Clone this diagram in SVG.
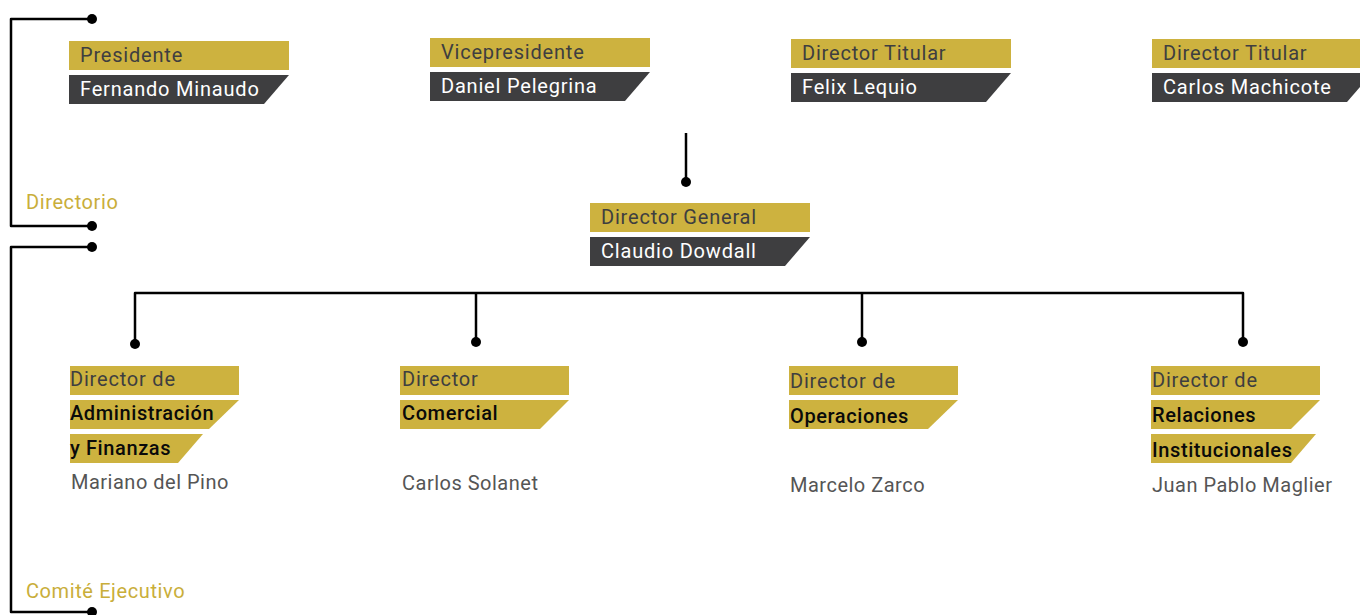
<svg xmlns="http://www.w3.org/2000/svg" width="1360" height="615" viewBox="0 0 1360 615">
<style>
.gold{fill:#CDB23F}
.dark{fill:#3E3E40}
.t{font-family:Roboto,"Liberation Sans",sans-serif;font-size:20px;letter-spacing:0.8px}
.lbl{fill:#3E3E40}
.nm{fill:#FFFFFF}
.bk{fill:#0A0A0A;font-weight:500;letter-spacing:0.6px}
.gr{fill:#555555;letter-spacing:0.5px}
.sec{font-family:Roboto,"Liberation Sans",sans-serif;font-size:20px;letter-spacing:0.6px;fill:#C9AE3A}
.ln{fill:none;stroke:#000;stroke-width:2.5;stroke-linejoin:round}
.dot{fill:#000}
</style>
<rect width="1360" height="615" fill="#FFFFFF"/>
<g id="connectors">
<path class="ln" d="M92,19 H11 V226 H92"/>
<circle class="dot" cx="92" cy="19" r="5"/>
<circle class="dot" cx="92" cy="226" r="5"/>
<path class="ln" d="M92,247 H11 V612 H92"/>
<circle class="dot" cx="92" cy="247" r="5"/>
<circle class="dot" cx="92" cy="612" r="5"/>
<path class="ln" d="M686,133 V182"/>
<circle class="dot" cx="686" cy="182" r="5"/>
<path class="ln" d="M135,344 V293 H1243 V342"/>
<path class="ln" d="M476,293 V342"/>
<path class="ln" d="M862,293 V342"/>
<circle class="dot" cx="135" cy="344" r="5"/>
<circle class="dot" cx="476" cy="342" r="5"/>
<circle class="dot" cx="862" cy="342" r="5"/>
<circle class="dot" cx="1243" cy="342" r="5"/>
</g>
<g id="directorio">
<text class="sec" x="26" y="209">Directorio</text>
</g>
<g id="comite">
<text class="sec" x="26" y="598">Comité Ejecutivo</text>
</g>
<g id="presidente">
<rect class="gold" x="69" y="41" width="220" height="29"/>
<polygon class="dark" points="69,75 289,75 264,104 69,104"/>
<text class="t lbl" x="80" y="62">Presidente</text>
<text class="t nm" x="80" y="96">Fernando Minaudo</text>
</g>
<g id="vicepresidente">
<rect class="gold" x="430" y="38" width="220" height="29"/>
<polygon class="dark" points="430,72 650,72 625,101 430,101"/>
<text class="t lbl" x="441" y="59">Vicepresidente</text>
<text class="t nm" x="441" y="93">Daniel Pelegrina</text>
</g>
<g id="director-titular-1">
<rect class="gold" x="791" y="39" width="220" height="29"/>
<polygon class="dark" points="791,73 1011,73 986,102 791,102"/>
<text class="t lbl" x="802" y="60">Director Titular</text>
<text class="t nm" x="802" y="94">Felix Lequio</text>
</g>
<g id="director-titular-2">
<rect class="gold" x="1152" y="39" width="220" height="29"/>
<polygon class="dark" points="1152,73 1372,73 1347,102 1152,102"/>
<text class="t lbl" x="1163" y="60">Director Titular</text>
<text class="t nm" x="1163" y="94">Carlos Machicote</text>
</g>
<g id="director-general">
<rect class="gold" x="590" y="203" width="220" height="29"/>
<polygon class="dark" points="590,237 810,237 785,266 590,266"/>
<text class="t lbl" x="601" y="224">Director General</text>
<text class="t nm" x="601" y="258">Claudio Dowdall</text>
</g>
<g id="dir-admin">
<rect class="gold" x="70" y="366" width="169" height="29"/>
<polygon class="gold" points="70,400 239,400 209,429 70,429"/>
<polygon class="gold" points="70,434 203,434 178,463 70,463"/>
<text class="t lbl" x="70" y="386">Director de</text>
<text class="t bk" x="70" y="420">Administración</text>
<text class="t bk" x="70" y="455">y Finanzas</text>
<text class="t gr" x="71" y="489">Mariano del Pino</text>
</g>
<g id="dir-comercial">
<rect class="gold" x="400" y="366" width="169" height="29"/>
<polygon class="gold" points="400,400 569,400 540,429 400,429"/>
<text class="t lbl" x="402" y="386">Director</text>
<text class="t bk" x="402" y="420">Comercial</text>
<text class="t gr" x="402" y="490">Carlos Solanet</text>
</g>
<g id="dir-operaciones">
<rect class="gold" x="789" y="366" width="169" height="29"/>
<polygon class="gold" points="789,400 958,400 928,429 789,429"/>
<text class="t lbl" x="790" y="388">Director de</text>
<text class="t bk" x="790" y="423">Operaciones</text>
<text class="t gr" x="790" y="492">Marcelo Zarco</text>
</g>
<g id="dir-relaciones">
<rect class="gold" x="1151" y="366" width="169" height="29"/>
<polygon class="gold" points="1151,400 1320,400 1291,429 1151,429"/>
<polygon class="gold" points="1151,434 1316,434 1291,463 1151,463"/>
<text class="t lbl" x="1152" y="387">Director de</text>
<text class="t bk" x="1152" y="422">Relaciones</text>
<text class="t bk" x="1152" y="457">Institucionales</text>
<text class="t gr" x="1152" y="492">Juan Pablo Maglier</text>
</g>
</svg>
